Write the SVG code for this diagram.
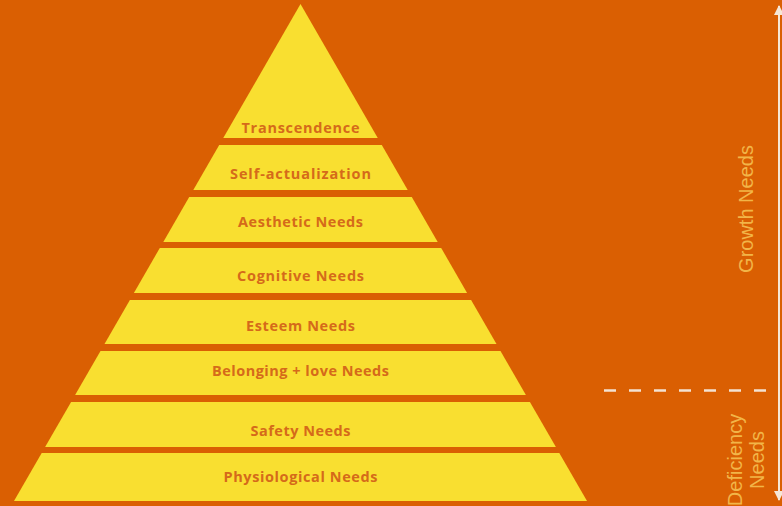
<svg xmlns="http://www.w3.org/2000/svg" width="782" height="506" viewBox="0 0 782 506">
<defs>
<style>
.band{fill:#F9DF30;}
.lbl{font-family:"Open Sans","Liberation Sans",sans-serif;font-weight:700;font-size:14.5px;fill:#D56A1A;text-anchor:middle;}
.side{font-family:"Liberation Sans",Arial,sans-serif;font-size:20px;fill:#F2B548;text-anchor:middle;}
.axis{stroke:#F6E7D6;stroke-width:2;fill:none;}
.dash{stroke:#F3E2D2;stroke-width:2.5;stroke-dasharray:12 13;fill:none;}
</style>
<marker id="ah" viewBox="0 0 10 10" refX="9" refY="5" markerWidth="5" markerHeight="5" orient="auto-start-reverse">
<path d="M0,0 L10,5 L0,10 z" fill="#F6E7D6"/>
</marker>
</defs>
<rect x="0" y="0" width="782" height="506" fill="#DA5F02"/>
<g id="transcendence"><polygon class="band" points="300.5,4 377.75,138 223.25,138"/><text class="lbl" x="300.5" y="133" textLength="118" lengthAdjust="spacing">Transcendence</text></g>
<g id="self-actualization"><polygon class="band" points="219.2,145 381.8,145 407.7,190 193.3,190"/><text class="lbl" x="300.5" y="179" textLength="141" lengthAdjust="spacing">Self-actualization</text></g>
<g id="aesthetic"><polygon class="band" points="189.2,197 411.8,197 437.7,242 163.3,242"/><text class="lbl" x="300.5" y="227" textLength="125" lengthAdjust="spacing">Aesthetic Needs</text></g>
<g id="cognitive"><polygon class="band" points="159.8,248 441.2,248 467.1,293 133.9,293"/><text class="lbl" x="300.5" y="281" textLength="127" lengthAdjust="spacing">Cognitive Needs</text></g>
<g id="esteem"><polygon class="band" points="129.9,300 471.1,300 496.5,344 104.5,344"/><text class="lbl" x="300.5" y="331" textLength="109" lengthAdjust="spacing">Esteem Needs</text></g>
<g id="belonging"><polygon class="band" points="100.5,351 500.5,351 525.9,395 75.1,395"/><text class="lbl" x="300.5" y="376" textLength="177" lengthAdjust="spacing">Belonging + love Needs</text></g>
<g id="safety"><polygon class="band" points="71.1,402 529.9,402 555.9,447 45.1,447"/><text class="lbl" x="300.5" y="436" textLength="100" lengthAdjust="spacing">Safety Needs</text></g>
<g id="physiological"><polygon class="band" points="41.7,453 559.3,453 587,501 14,501"/><text class="lbl" x="300.5" y="482" textLength="154" lengthAdjust="spacing">Physiological Needs</text></g>
<g id="connectors">
<line class="axis" x1="779" y1="6" x2="779" y2="500" marker-start="url(#ah)" marker-end="url(#ah)"/>
<line class="dash" x1="604" y1="390.5" x2="779" y2="390.5"/>
</g>
<g id="growth-label"><text class="side" transform="translate(753,209) rotate(-90)">Growth Needs</text></g>
<g id="deficiency-label"><text class="side" transform="translate(742,460) rotate(-90)">Deficiency</text><text class="side" transform="translate(764,460) rotate(-90)">Needs</text></g>
</svg>
